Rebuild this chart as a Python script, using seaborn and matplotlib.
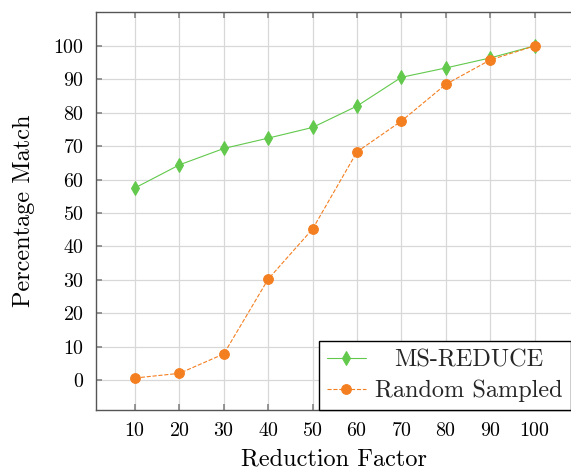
import matplotlib
matplotlib.use("Agg")
import matplotlib.pyplot as plt
import seaborn as sns
import pandas as pd

factors = [10, 20, 30, 40, 50, 60, 70, 80, 90, 100]
ms_reduce = [57.5, 64.4, 69.3, 72.4, 75.6, 82.0, 90.6, 93.4, 96.4, 100.0]
random_sampled = [0.6, 2.0, 7.8, 30.2, 45.2, 68.3, 77.5, 88.5, 95.8, 100.0]
yticks = [0, 10, 20, 30, 40, 50, 60, 70, 80, 90, 100]

sns.set_theme(style="whitegrid")
plt.rcParams['font.family'] = ['cmr10', 'DejaVu Serif']
plt.rcParams['axes.formatter.use_mathtext'] = True
plt.rcParams['mathtext.fontset'] = 'cm'

fig = plt.figure(figsize=(5.71, 4.73), dpi=100)
ax = fig.add_axes([0.168, 0.133, 0.832, 0.842])

df1 = pd.DataFrame({"x": factors, "y": ms_reduce})
df2 = pd.DataFrame({"x": factors, "y": random_sampled})
green = "#62c94c"
orange = "#f47f20"
sns.lineplot(data=df1, x="x", y="y", ax=ax, color=green, marker="d", markersize=6.8,
             markeredgecolor=green, linewidth=0.8, label="MS-REDUCE")
sns.lineplot(data=df2, x="x", y="y", ax=ax, color=orange, marker="o", markersize=7,
             markeredgecolor=orange, linewidth=0.8, dashes=(6, 4), linestyle="--",
             label="Random Sampled")

ax.set_xlim(1.2, 108.2)
ax.set_ylim(-9, 110.2)
ax.set_xticks(factors)
ax.set_yticks(yticks)
ax.grid(True, color="#d8d8d8", linewidth=0.9)
for side in ["left", "bottom", "top"]:
    ax.spines[side].set_color("#555555")
    ax.spines[side].set_linewidth(1.0)
ax.spines["right"].set_visible(False)
ax.tick_params(axis="both", which="both", direction="in", length=4, color="#888888",
               labelsize=14.4, labelcolor="black", top=True, bottom=True, left=True, right=False,
               pad=8.5)
ax.set_xlabel("Reduction Factor", fontsize=17.5, labelpad=6, color="black")
ax.set_ylabel("Percentage Match", fontsize=17.5, labelpad=13, color="black")

leg = ax.legend(loc="lower right", fontsize=17.5, frameon=True, fancybox=False,
                edgecolor="black", framealpha=1, borderaxespad=0, handlelength=1.6,
                handletextpad=0.4, borderpad=0.33, labelspacing=0.33)
leg.get_frame().set_linewidth(1.0)

# center the shorter legend entry like pgfplots does
fig.canvas.draw()
r = fig.canvas.get_renderer()
texts = leg.get_texts()
w0 = texts[0].get_window_extent(r).width
w1 = texts[1].get_window_extent(r).width
texts[0].set_x((w1 - w0) / 2)

fig.savefig("out.png", dpi=100)
